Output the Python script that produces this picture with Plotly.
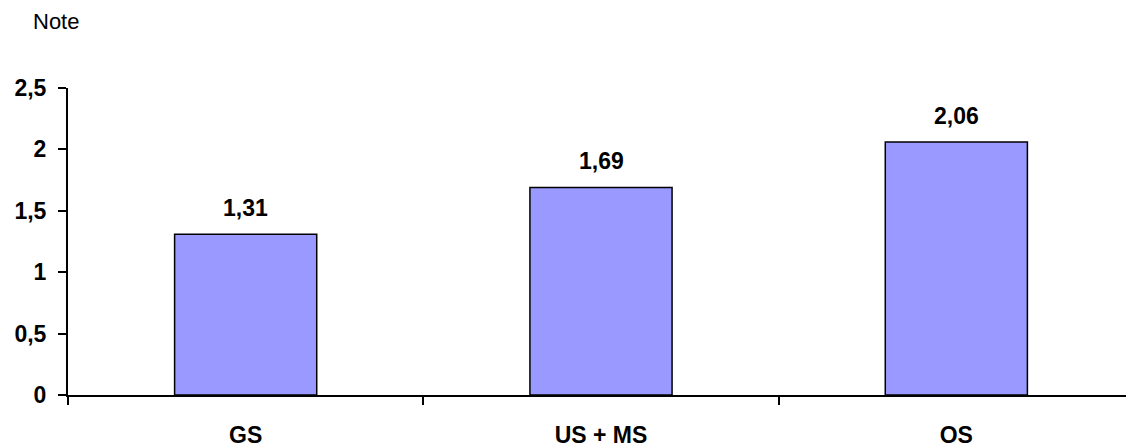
import plotly.graph_objects as go

categories = ["GS", "US + MS", "OS"]
values = [1.31, 1.69, 2.06]
value_labels = ["1,31", "1,69", "2,06"]
y_ticks = [0, 0.5, 1, 1.5, 2, 2.5]
y_tick_labels = ["0", "0,5", "1", "1,5", "2", "2,5"]
y_title = "Note"

font_family = "Liberation Sans, Arial, sans-serif"

# The page body adds an 8px offset; size the figure so the plot lands where the reference has it
W, H = 1126, 440
L, R, T, B = 60, 0, 80, 53
plot_w = W - L - R
plot_h = H - T - B

fig = go.Figure()
fig.add_trace(go.Bar(
    x=categories, y=values, width=0.4,
    marker=dict(color="#9999FF", line=dict(color="black", width=1.5)),
    hoverinfo="skip",
))

for c, v, t in zip(categories, values, value_labels):
    fig.add_annotation(x=c, y=v, text="<b>%s</b>" % t, showarrow=False,
                       yanchor="bottom", yshift=11,
                       font=dict(family=font_family, size=23, color="black"))

fig.add_annotation(text=y_title, x=(23 - L) / plot_w, y=(H - B - 14) / plot_h,
                   xref="paper", yref="paper", xanchor="left", yanchor="middle",
                   showarrow=False,
                   font=dict(family=font_family, size=22, color="black"))

fig.update_layout(
    width=W, height=H,
    margin=dict(l=L, r=R, t=T, b=B, autoexpand=False),
    plot_bgcolor="white", paper_bgcolor="white",
    showlegend=False,
    xaxis=dict(
        showline=True, linecolor="black", linewidth=2,
        ticks="outside", tickson="boundaries", ticklen=8, tickwidth=2, tickcolor="black",
        tickfont=dict(family=font_family, size=23, color="black", weight="bold"),
        ticklabelstandoff=18,
        showgrid=False, zeroline=False, automargin=False,
    ),
    yaxis=dict(
        range=[0, 2.5], tickvals=y_ticks, ticktext=y_tick_labels,
        showline=True, linecolor="black", linewidth=2,
        ticks="outside", ticklen=8, tickwidth=2, tickcolor="black",
        tickfont=dict(family=font_family, size=23, color="black", weight="bold"),
        ticklabelstandoff=7,
        showgrid=False, zeroline=False, automargin=False,
    ),
)

fig.write_html("out.html")
